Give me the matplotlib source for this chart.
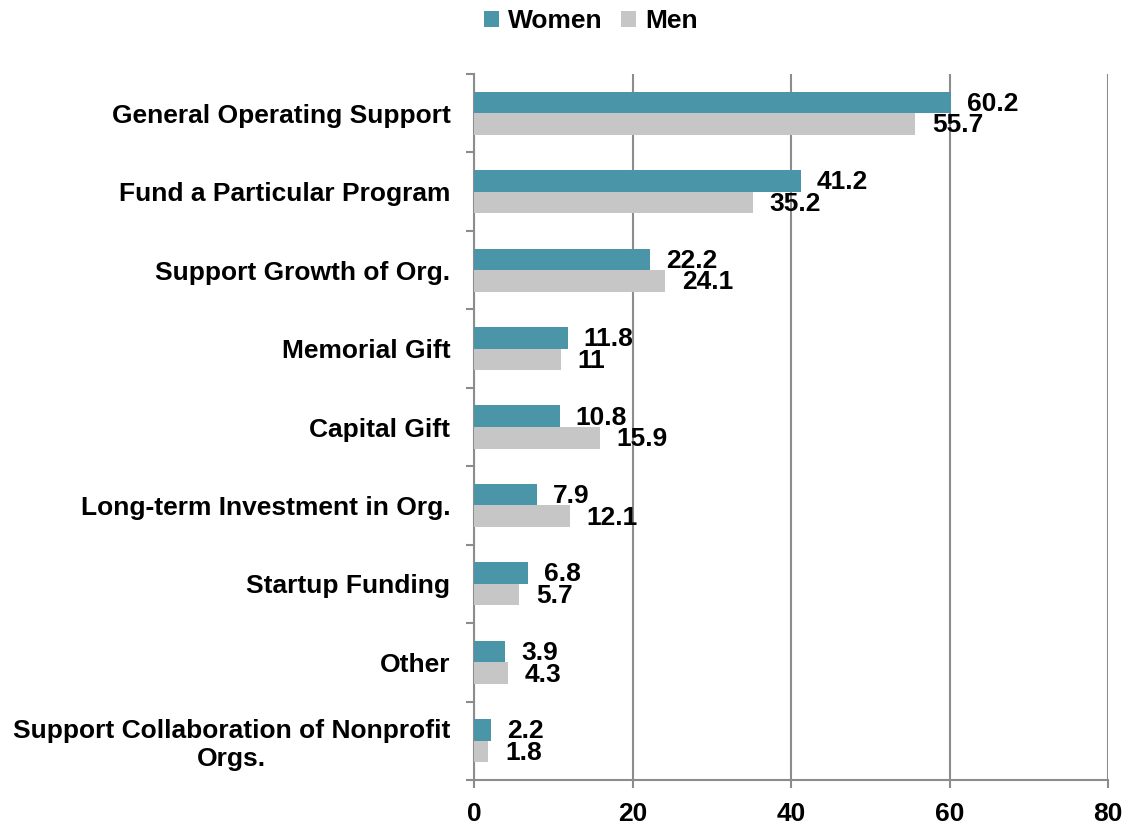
import matplotlib
matplotlib.use("Agg")
import matplotlib.pyplot as plt
import numpy as np

categories = ["General Operating Support", "Fund a Particular Program", "Support Growth of Org.",
              "Memorial Gift", "Capital Gift", "Long-term Investment in Org.",
              "Startup Funding", "Other", "Support Collaboration of Nonprofit\nOrgs."]
women = [60.2, 41.2, 22.2, 11.8, 10.8, 7.9, 6.8, 3.9, 2.2]
men = [55.7, 35.2, 24.1, 11, 15.9, 12.1, 5.7, 4.3, 1.8]
women_labels = ["60.2", "41.2", "22.2", "11.8", "10.8", "7.9", "6.8", "3.9", "2.2"]
men_labels = ["55.7", "35.2", "24.1", "11", "15.9", "12.1", "5.7", "4.3", "1.8"]
xticks = [0, 20, 40, 60, 80]

plt.rcParams['font.family'] = ['Liberation Sans', 'DejaVu Sans']
plt.rcParams['font.weight'] = 'bold'

fig = plt.figure(figsize=(11.28, 8.24), dpi=100)
ax = fig.add_axes([474/1128, 44/824, (1108-474)/1128, (780-74)/824])

n = len(categories)
y = np.arange(n)
h = 0.275
wc = "#4A96A8"
mc = "#C6C6C6"
bw = ax.barh(y - h/2, women, height=h, color=wc, label="Women", zorder=3)
bm = ax.barh(y + h/2, men, height=h, color=mc, label="Men", zorder=3)

for yi, v, s in zip(y, women, women_labels):
    ax.annotate(s, (v, yi - h/2), xytext=(11.5, -1), textcoords="offset points",
                va="center", ha="left", fontsize=19, fontweight="bold", zorder=4)
for yi, v, s in zip(y, men, men_labels):
    ax.annotate(s, (v, yi + h/2), xytext=(12, -1), textcoords="offset points",
                va="center", ha="left", fontsize=19, fontweight="bold", zorder=4)

ax.set_xlim(0, 80)
ax.set_ylim(n - 0.5, -0.5)
ax.set_xticks(xticks)
ax.set_xticklabels([str(t) for t in xticks], fontsize=19, fontweight="bold")
ax.set_yticks(np.arange(n + 1) - 0.5)
ax.set_yticklabels([])
ax.set_yticks(y, minor=True)
ax.set_yticklabels(categories, minor=True, fontsize=19, fontweight="bold", ha="right",
                   multialignment="center")
ax.tick_params(axis="y", which="minor", length=0, pad=17)
ax.tick_params(axis="y", which="major", length=6, width=1.5, color="#8C8C8C", direction="out")
ax.tick_params(axis="x", length=6, width=1.5, color="#8C8C8C", direction="out", pad=10)

ax.grid(axis="x", color="#8C8C8C", linewidth=1.5, zorder=0)
ax.set_axisbelow(True)
for s in ["top", "right"]:
    ax.spines[s].set_visible(False)
for s in ["left", "bottom"]:
    ax.spines[s].set_color("#8C8C8C")
    ax.spines[s].set_linewidth(1.5)

fig.legend(handles=[bw, bm], labels=["Women", "Men"], loc="center", bbox_to_anchor=(0.524, 0.974),
           ncol=2, frameon=False, prop={"size": 19, "weight": "bold"},
           handlelength=0.55, handleheight=0.55, handletextpad=0.35, columnspacing=0.7)

fig.savefig("out.png", dpi=100)
